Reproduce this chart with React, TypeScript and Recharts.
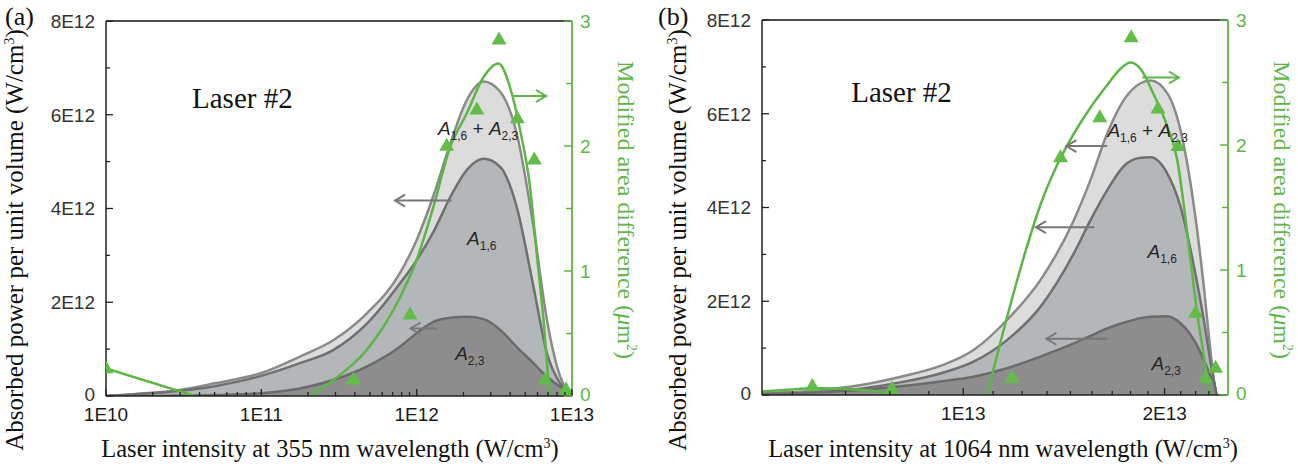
import React from "react";
import {
  ComposedChart,
  Area,
  Line,
  Scatter,
  XAxis,
  YAxis,
  ReferenceLine,
  ReferenceDot,
} from "recharts";

// ---------- panel (a): 355 nm, log intensity axis ----------
// absorbed power values are in units of 1E12 W/cm3
const intensity355 = [
  1e10, 1.5e10, 3e10, 5e10, 1e11, 1.77e11, 2.9e11, 4.8e11, 7.8e11, 1e12, 1.3e12,
  1.65e12, 2.1e12, 2.7e12, 3.45e12, 4.4e12, 5.65e12, 6.9e12, 8.4e12, 1e13,
];
const sum355 = [0, 0.04, 0.13, 0.27, 0.49, 0.84, 1.19, 1.77, 2.62, 3.33, 4.33, 5.4, 6.31, 6.71, 6.49, 5.61, 3.61, 1.62, 0.41, 0.05];
const a16_355 = [0, 0.03, 0.11, 0.21, 0.43, 0.7, 0.98, 1.55, 2.4, 2.9, 3.54, 4.25, 4.82, 5.06, 4.89, 4.04, 2.33, 0.91, 0.27, 0.05];
const a23_355 = [0, 0, 0.01, 0.02, 0.06, 0.16, 0.34, 0.63, 1.05, 1.34, 1.59, 1.67, 1.69, 1.64, 1.41, 1.05, 0.7, 0.41, 0.2, 0.05];

// modified area difference (um^2): fitted curve, leading segment, measured points
const fitX355 = [2.06e11, 2.91e11, 4.77e11, 7.82e11, 1e12, 1.28e12, 1.64e12, 2.1e12, 2.69e12, 3.36e12, 3.99e12, 4.63e12, 5.37e12, 5.93e12, 6.55e12, 7.05e12, 7.22e12];
const fitY355 = [0, 0.128, 0.368, 0.79, 1.09, 1.51, 1.99, 2.26, 2.55, 2.66, 2.47, 2.13, 1.67, 1.14, 0.61, 0.13, 0];
const tailX355 = [1e10, 3.74e10];
const tailY355 = [0.22, 0];
const markX355 = [1e10, 3.91e11, 9.06e11, 1.56e12, 2.44e12, 3.39e12, 4.45e12, 5.72e12, 6.7e12, 9.15e12];
const markY355 = [0.23, 0.14, 0.66, 2.01, 2.3, 2.86, 2.23, 1.9, 0.14, 0.06];

const decades355 = [1e10, 1e11, 1e12, 1e13];

// ---------- panel (b): 1064 nm, linear intensity axis (units of 1E13) ----------
const intensity1064 = [0, 0.25, 0.5, 0.7, 0.886, 1.051, 1.217, 1.383, 1.549, 1.632, 1.715, 1.797, 1.88, 1.93, 2.013, 2.079, 2.146, 2.195, 2.229, 2.248, 2.258];
const sum1064 = [0.04, 0.09, 0.22, 0.4, 0.62, 0.96, 1.6, 2.45, 3.73, 4.59, 5.58, 6.29, 6.65, 6.71, 6.44, 5.65, 4.02, 2.31, 0.89, 0.21, 0];
const a16_1064 = [0.02, 0.05, 0.14, 0.28, 0.46, 0.71, 1.17, 1.88, 3.02, 3.73, 4.37, 4.88, 5.06, 5.07, 4.73, 4.02, 2.74, 1.6, 0.68, 0.25, 0];
const a23_1064 = [0.02, 0.05, 0.11, 0.19, 0.29, 0.39, 0.57, 0.82, 1.1, 1.26, 1.42, 1.54, 1.64, 1.67, 1.68, 1.53, 1.17, 0.75, 0.39, 0.21, 0];

const fitX1064 = [1.118, 1.217, 1.3, 1.383, 1.466, 1.549, 1.632, 1.715, 1.781, 1.831, 1.88, 1.947, 2.013, 2.063, 2.096, 2.129, 2.162, 2.195, 2.225];
const fitY1064 = [0, 0.62, 1.1, 1.52, 1.84, 2.09, 2.3, 2.48, 2.61, 2.66, 2.61, 2.4, 2.15, 1.88, 1.51, 1.08, 0.65, 0.31, 0];
const tailX1064 = [0, 0.25, 0.41, 0.55, 0.64];
const tailY1064 = [0.027, 0.055, 0.05, 0.035, 0];
const markX1064 = [0.25, 0.645, 1.242, 1.483, 1.678, 1.834, 1.967, 2.066, 2.154, 2.204, 2.253];
const markY1064 = [0.08, 0.06, 0.147, 1.91, 2.23, 2.87, 2.3, 2.0, 0.667, 0.147, 0.227];

const major1064 = [1, 2];
const minor1064 = [0.151, 0.415, 0.635, 0.829, 1.148, 1.292, 1.416, 1.532, 1.64, 1.74, 1.831, 1.917, 2.08, 2.154, 2.22];

const powerTicks = [0, 1, 2, 3, 4, 5, 6, 7, 8];
const areaTicks = [0, 0.5, 1, 1.5, 2, 2.5, 3];

// annotation anchors (data coordinates)
const grayArrows355 = [
  { from: 1.68e12, to: 7.26e11, y: 4.17 },
  { from: 1.35e12, to: 9.14e11, y: 1.44 },
];
const greenArrows355 = [{ from: 4.19e12, to: 6.8e12, y: 2.4 }];
const grayArrows1064 = [
  { from: 1.715, to: 1.512, y: 5.31 },
  { from: 1.652, to: 1.361, y: 3.58 },
  { from: 1.715, to: 1.413, y: 1.2 },
];
const greenArrows1064 = [{ from: 1.889, to: 2.071, y: 2.54 }];

const SERIF = '"Liberation Serif", "Times New Roman", serif';
const SANS = '"Liberation Sans", Arial, sans-serif';
const GREEN = "#5cb646";
const MARK = "#62bd48";
const AXIS = "#222";
const serifStyle = { fontFamily: SERIF };
const sansStyle = { fontFamily: SANS };

const rows = (xs: number[], s: number[], a: number[], b: number[]) =>
  xs.map((x, i) => ({ x, sum: s[i], a16: a[i], a23: b[i] }));
const pts = (xs: number[], ys: number[]) => xs.map((x, i) => ({ x, g: ys[i] }));

const logTicks355: number[] = [];
decades355.slice(0, -1).forEach((d) => {
  for (let k = 1; k < 10; k++) logTicks355.push(k * d);
});
logTicks355.push(decades355[decades355.length - 1]);

const arrowShape = (color: string) => (p: any) => {
  const { x1, y1, x2, y2 } = p;
  const dir = Math.sign(x2 - x1) || 1;
  return (
    <g>
      <line x1={x1} y1={y1} x2={x2} y2={y2} stroke={color} strokeWidth={2} />
      <polyline
        points={`${x2 - dir * 10},${y2 - 6} ${x2},${y2} ${x2 - dir * 10},${y2 + 6}`}
        fill="none"
        stroke={color}
        strokeWidth={2}
      />
    </g>
  );
};

const triangle = (p: any) => (
  <polygon
    points={`${p.cx},${p.cy - 7} ${p.cx + 7.5},${p.cy + 6} ${p.cx - 7.5},${p.cy + 6}`}
    fill={MARK}
  />
);

const sumLabel = (p: any) => (
  <text x={p.cx} y={p.cy} style={sansStyle} fontSize={19} fill="#262626">
    <tspan fontStyle="italic">A</tspan>
    <tspan fontSize={12} dy={5}>1,6</tspan>
    <tspan dy={-5}> + </tspan>
    <tspan fontStyle="italic">A</tspan>
    <tspan fontSize={12} dy={5}>2,3</tspan>
  </text>
);
const oneLabel = (sub: string) => (p: any) => (
  <text x={p.cx} y={p.cy} style={sansStyle} fontSize={19} fill="#262626">
    <tspan fontStyle="italic">A</tspan>
    <tspan fontSize={12} dy={5}>{sub}</tspan>
  </text>
);
const laserLabel = (p: any) => (
  <text x={p.cx} y={p.cy} style={serifStyle} fontSize={29} fill="#111">
    Laser #2
  </text>
);

type PanelProps = {
  letter: string;
  wavelength: string;
  data: any[];
  fit: any[];
  tail: any[];
  marks: any[];
  xScale: "log" | "linear";
  xDomain: [number, number];
  xTicks: number[];
  isMajorX: (v: number) => boolean;
  xFmt: (v: number) => string;
  top: number;
  leftW: number;
  rightW: number;
  xH: number;
  letterX: number;
  yTitleX: number;
  xTitleX: number;
  grayArrows: { from: number; to: number; y: number }[];
  greenArrows: { from: number; to: number; y: number }[];
  laserAt: [number, number];
  sumAt: [number, number];
  a16At: [number, number];
  a23At: [number, number];
};

function Panel(pp: PanelProps) {
  const W = 649;
  const H = 468;

  const xTick = (p: any) => {
    const v = p.payload.value;
    const major = pp.isMajorX(v);
    return (
      <g>
        <line x1={p.x} x2={p.x} y1={p.y} y2={p.y - (major ? 7 : 4)} stroke={AXIS} strokeWidth={1.3} />
        {major && (
          <text x={p.x} y={p.y + 25} textAnchor="middle" style={sansStyle} fontSize={19} fill="#1a1a1a">
            {pp.xFmt(v)}
          </text>
        )}
      </g>
    );
  };
  const leftTick = (p: any) => {
    const v = p.payload.value;
    const major = v % 2 === 0;
    return (
      <g>
        <line x1={p.x} x2={p.x + (major ? 7 : 4)} y1={p.y} y2={p.y} stroke={AXIS} strokeWidth={1.3} />
        {major && (
          <text x={p.x - 11} y={p.y} dy={v === 0 ? "0.25em" : "0.36em"} textAnchor="end" style={sansStyle} fontSize={19} fill="#333">
            {v === 0 ? "0" : `${v}E12`}
          </text>
        )}
      </g>
    );
  };
  const rightTick = (p: any) => {
    const v = p.payload.value;
    const major = Number.isInteger(v);
    return (
      <g>
        <line x1={p.x} x2={p.x - (major ? 8 : 6)} y1={p.y} y2={p.y} stroke={GREEN} strokeWidth={1.5} />
        {major && (
          <text x={p.x + 8} y={p.y} dy={v === 0 ? "0.25em" : "0.36em"} textAnchor="start" style={sansStyle} fontSize={19} fill={GREEN}>
            {v}
          </text>
        )}
      </g>
    );
  };

  const leftTitle = () => {
    const x = pp.yTitleX;
    const y = 240;
    return (
      <g>
        <text x={pp.letterX} y={25} style={serifStyle} fontSize={26} fill="#111">
          ({pp.letter})
        </text>
        <text
          x={x}
          y={y}
          transform={`rotate(-90, ${x}, ${y})`}
          textAnchor="middle"
          style={serifStyle}
          fontSize={25}
          fill="#111"
        >
          Absorbed power per unit volume (W/cm
          <tspan fontSize={14} dy={-9}>3</tspan>
          <tspan dy={9}>)</tspan>
        </text>
      </g>
    );
  };
  const rightTitle = (lp: any) => {
    const vb = lp.viewBox;
    const x = vb.x + 46;
    const y = 210;
    return (
      <text
        x={x}
        y={y}
        transform={`rotate(90, ${x}, ${y})`}
        textAnchor="middle"
        style={serifStyle}
        fontSize={24}
        fill={GREEN}
      >
        Modified area  difference (<tspan fontStyle="italic">μ</tspan>m
        <tspan fontSize={14} dy={-9}>2</tspan>
        <tspan dy={9}>)</tspan>
      </text>
    );
  };
  const xTitle = () => (
    <text x={pp.xTitleX} y={457} textAnchor="middle" style={serifStyle} fontSize={24.5} fill="#111">
      Laser intensity at {pp.wavelength} nm wavelength (W/cm
      <tspan fontSize={14} dy={-9}>3</tspan>
      <tspan dy={9}>)</tspan>
    </text>
  );

  return (
    <ComposedChart
      width={W}
      height={H}
      data={pp.data}
      margin={{ top: pp.top, right: 0, bottom: 0, left: 0 }}
    >
      <Area yAxisId="left" dataKey="sum" type="monotone" fill="#dcdcdc" fillOpacity={1} stroke="#8a8a8a" strokeWidth={2.5} dot={false} activeDot={false} isAnimationActive={false} />
      <Area yAxisId="left" dataKey="a16" type="monotone" fill="#b4b7b9" fillOpacity={1} stroke="#707070" strokeWidth={2.5} dot={false} activeDot={false} isAnimationActive={false} />
      <Area yAxisId="left" dataKey="a23" type="monotone" fill="#8d8d8d" fillOpacity={1} stroke="#6b6b6b" strokeWidth={2.5} dot={false} activeDot={false} isAnimationActive={false} />

      <Line yAxisId="right" data={pp.tail} dataKey="g" type="linear" stroke={GREEN} strokeWidth={2.5} dot={false} activeDot={false} isAnimationActive={false} />
      <Line yAxisId="right" data={pp.fit} dataKey="g" type="monotone" stroke={GREEN} strokeWidth={2.5} dot={false} activeDot={false} isAnimationActive={false} />
      <Scatter yAxisId="right" data={pp.marks} dataKey="g" shape={triangle} isAnimationActive={false} />

      {pp.grayArrows.map((a, i) => (
        <ReferenceLine
          key={`g${i}`}
          yAxisId="left"
          segment={[{ x: a.from, y: a.y }, { x: a.to, y: a.y }]}
          shape={arrowShape("#777")}
        />
      ))}
      {pp.greenArrows.map((a, i) => (
        <ReferenceLine
          key={`r${i}`}
          yAxisId="right"
          segment={[{ x: a.from, y: a.y }, { x: a.to, y: a.y }]}
          shape={arrowShape(GREEN)}
        />
      ))}
      <ReferenceLine yAxisId="left" y={8} stroke="#111" strokeWidth={1.5} />

      <ReferenceDot yAxisId="left" x={pp.laserAt[0]} y={pp.laserAt[1]} r={0} shape={laserLabel} />
      <ReferenceDot yAxisId="left" x={pp.sumAt[0]} y={pp.sumAt[1]} r={0} shape={sumLabel} />
      <ReferenceDot yAxisId="left" x={pp.a16At[0]} y={pp.a16At[1]} r={0} shape={oneLabel("1,6")} />
      <ReferenceDot yAxisId="left" x={pp.a23At[0]} y={pp.a23At[1]} r={0} shape={oneLabel("2,3")} />

      <XAxis
        dataKey="x"
        type="number"
        scale={pp.xScale}
        domain={pp.xDomain}
        allowDataOverflow
        ticks={pp.xTicks}
        interval={0}
        tick={xTick}
        tickLine={false}
        tickSize={0}
        tickMargin={0}
        height={pp.xH}
        axisLine={{ stroke: AXIS, strokeWidth: 1.5 }}
        label={xTitle}
      />
      <YAxis
        yAxisId="left"
        type="number"
        domain={[0, 8]}
        allowDataOverflow
        ticks={powerTicks}
        interval={0}
        tick={leftTick}
        tickLine={false}
        tickSize={0}
        tickMargin={0}
        width={pp.leftW}
        axisLine={{ stroke: AXIS, strokeWidth: 1.5 }}
        label={leftTitle}
      />
      <YAxis
        yAxisId="right"
        orientation="right"
        type="number"
        domain={[0, 3]}
        allowDataOverflow
        ticks={areaTicks}
        interval={0}
        tick={rightTick}
        tickLine={false}
        tickSize={0}
        tickMargin={0}
        width={pp.rightW}
        axisLine={{ stroke: GREEN, strokeWidth: 1.8 }}
        label={rightTitle}
      />
    </ComposedChart>
  );
}

export default function App() {
  const fmtE = (v: number) => `1E${Math.round(Math.log10(v))}`;
  return (
    <div style={{ position: "absolute", left: 0, top: 0, width: 1298, height: 468, background: "#fff" }}>
      <div style={{ position: "absolute", left: 0, top: 0 }}>
        <Panel
          letter="a"
          wavelength="355"
          data={rows(intensity355, sum355, a16_355, a23_355)}
          fit={pts(fitX355, fitY355)}
          tail={pts(tailX355, tailY355)}
          marks={pts(markX355, markY355)}
          xScale="log"
          xDomain={[1e10, 1e13]}
          xTicks={logTicks355}
          isMajorX={(v) => decades355.includes(v)}
          xFmt={fmtE}
          top={21}
          leftW={106}
          rightW={77}
          xH={72}
          letterX={5}
          yTitleX={23}
          xTitleX={330}
          grayArrows={grayArrows355}
          greenArrows={greenArrows355}
          laserAt={[3.58e10, 6.14]}
          sumAt={[1.37e12, 5.57]}
          a16At={[2.11e12, 3.22]}
          a23At={[1.77e12, 0.77]}
        />
      </div>
      <div style={{ position: "absolute", left: 649, top: 0 }}>
        <Panel
          letter="b"
          wavelength="1064"
          data={rows(intensity1064, sum1064, a16_1064, a23_1064)}
          fit={pts(fitX1064, fitY1064)}
          tail={pts(tailX1064, tailY1064)}
          marks={pts(markX1064, markY1064)}
          xScale="linear"
          xDomain={[0, 2.315]}
          xTicks={[...minor1064, ...major1064].sort((a, b) => a - b)}
          isMajorX={(v) => major1064.includes(v)}
          xFmt={(v) => `${v}E13`}
          top={20}
          leftW={113}
          rightW={70}
          xH={73}
          letterX={9}
          yTitleX={37}
          xTitleX={354}
          grayArrows={grayArrows1064}
          greenArrows={greenArrows1064}
          laserAt={[0.443, 6.25]}
          sumAt={[1.716, 5.5]}
          a16At={[1.915, 2.92]}
          a23At={[1.935, 0.53]}
        />
      </div>
    </div>
  );
}
